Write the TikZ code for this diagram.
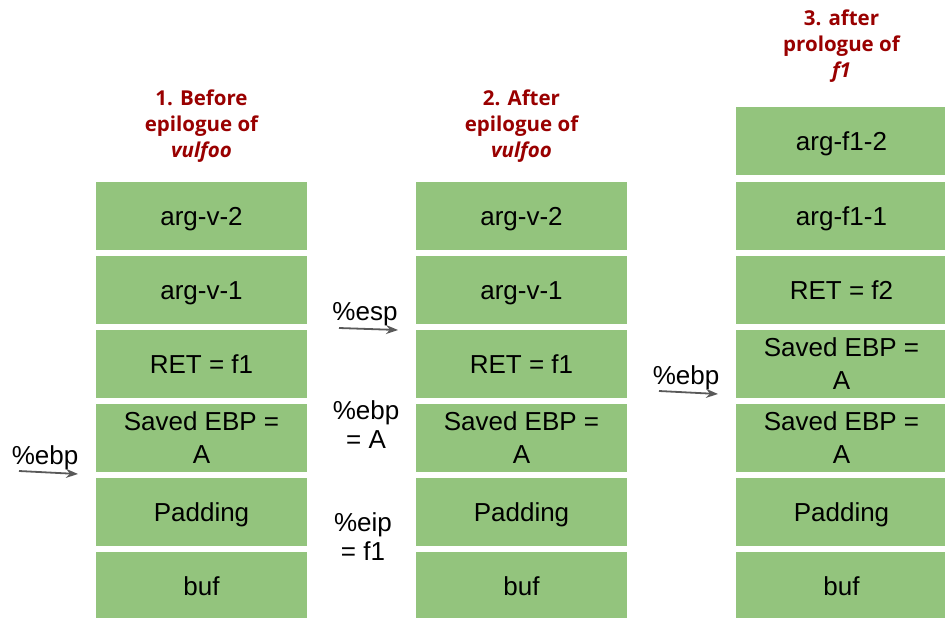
\documentclass[tikz,border=0pt]{standalone}
\usepackage{fontspec}
\setmainfont{Liberation Sans}
\newfontfamily\titlefont{Open Sans}
\usetikzlibrary{arrows.meta}
\definecolor{boxgreen}{HTML}{93C47D}
\definecolor{titlered}{HTML}{990000}
\definecolor{arrowgray}{HTML}{595959}
\begin{document}
\begin{tikzpicture}[x=1pt,y=-1pt,
 cell/.style={fill=boxgreen, draw=none, minimum width=211pt, minimum height=68pt, inner sep=0pt, align=center, font=\fontsize{26}{33}\selectfont, text height=18.6pt, text depth=0pt},
 cell2/.style={cell, text height=51.6pt},
 ttl/.style={text=titlered, align=center, font=\titlefont\bfseries\fontsize{20.5}{26}\selectfont, inner sep=0pt},
 lbl/.style={align=center, font=\fontsize{26}{29}\selectfont, inner sep=0pt},
 ptr/.style={draw=arrowgray, line width=1.8pt, -{Stealth[length=12pt,width=9pt]}}]
\useasboundingbox (0,0) rectangle (945,618);
% column 1
\node[ttl] (t1) at (201.5,126) {1. Before\\epilogue of\\\textit{vulfoo}};
\node[cell] (a1) at (201.5,216) {arg-v-2};
\node[cell] (a2) at (201.5,290) {arg-v-1};
\node[cell] (a3) at (201.5,364) {RET = f1};
\node[cell2] (a4) at (201.5,438) {Saved EBP =\\A};
\node[cell] (a5) at (201.5,512) {Padding};
\node[cell] (a6) at (201.5,586) {buf};
% column 2
\node[ttl] (t2) at (521.5,126) {2. After\\epilogue of\\\textit{vulfoo}};
\node[cell] (b1) at (521.5,216) {arg-v-2};
\node[cell] (b2) at (521.5,290) {arg-v-1};
\node[cell] (b3) at (521.5,364) {RET = f1};
\node[cell2] (b4) at (521.5,438) {Saved EBP =\\A};
\node[cell] (b5) at (521.5,512) {Padding};
\node[cell] (b6) at (521.5,586) {buf};
% column 3
\node[ttl] (t3) at (841.5,46) {3. after\\prologue of\\\textit{f1}};
\node[cell] (c1) at (841.5,141) {arg-f1-2};
\node[cell] (c2) at (841.5,216) {arg-f1-1};
\node[cell] (c3) at (841.5,290) {RET = f2};
\node[cell2] (c4) at (841.5,364) {Saved EBP =\\A};
\node[cell2] (c5) at (841.5,438) {Saved EBP =\\A};
\node[cell] (c6) at (841.5,512) {Padding};
\node[cell] (c7) at (841.5,586) {buf};
% labels and pointers
\node[lbl] (l1) at (45,458) {\%ebp};
\coordinate (p1s) at (19,471);
\coordinate (p1e) at (78,474);
\draw[ptr] (p1s) -- (p1e);
\node[lbl] (l2) at (365,314) {\%esp};
\coordinate (p2s) at (339,328);
\coordinate (p2e) at (398,330);
\draw[ptr] (p2s) -- (p2e);
\node[lbl] (l3) at (366,425) {\%ebp\\= A};
\node[lbl] (l4) at (363,537) {\%eip\\= f1};
\node[lbl] (l5) at (686,378) {\%ebp};
\coordinate (p3s) at (659,391);
\coordinate (p3e) at (718,394);
\draw[ptr] (p3s) -- (p3e);
\end{tikzpicture}
\end{document}
